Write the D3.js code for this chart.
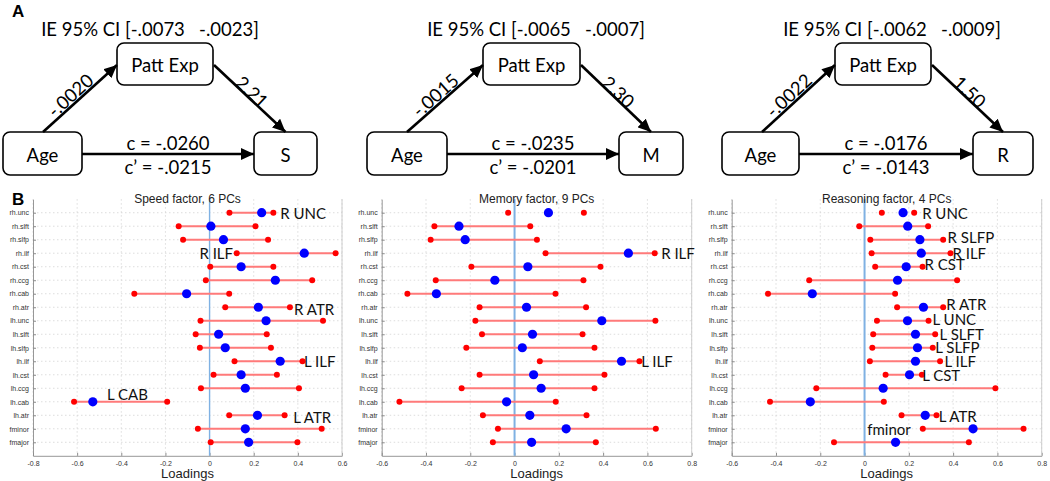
<!DOCTYPE html>
<html>
<head>
<meta charset="utf-8">
<script src="https://cdn.jsdelivr.net/npm/d3@7"></script>
<style>
  html, body { margin: 0; padding: 0; background: #fff; }
  svg { display: block; }
</style>
</head>
<body>
<svg id="chart" width="1050" height="481"></svg>
<script>
// ---------------- DATA ----------------
// Panel A: mediation models
const outcomes = ["S", "M", "R"];
const ieLow = [".0073", ".0065", ".0062"];
const ieHigh = [".0023", ".0007", ".0009"];
const pathA = ["-.0020", "-.0015", "-.0022"];
const pathB = ["2.21", "2.30", "1.50"];
const pathC = ["-.0260", "-.0235", "-.0176"];
const pathCp = ["-.0215", "-.0201", "-.0143"];

// Panel B: loadings
const tracts = ["rh.unc","rh.slft","rh.slfp","rh.ilf","rh.cst","rh.ccg","rh.cab","rh.atr",
  "lh.unc","lh.slft","lh.slfp","lh.ilf","lh.cst","lh.ccg","lh.cab","lh.atr","fminor","fmajor"];
const panelTitles = ["Speed factor, 6 PCs", "Memory factor, 9 PCs", "Reasoning factor, 4 PCs"];

const speedLo  = [0.09,-0.14,-0.12,0.123,0.003,-0.017,-0.341,0.071,-0.041,-0.063,-0.044,0.113,0.018,-0.039,-0.614,0.089,-0.053,0.005];
const speedEst = [0.236,0.006,0.063,0.429,0.143,0.298,-0.104,0.221,0.256,0.041,0.071,0.32,0.143,0.162,-0.529,0.217,0.162,0.177];
const speedHi  = [0.289,0.208,0.265,0.571,0.289,0.465,0.089,0.364,0.514,0.259,0.278,0.421,0.305,0.405,-0.192,0.34,0.508,0.398];

const memLo  = [-0.029,-0.362,-0.379,0.14,-0.195,-0.356,-0.484,-0.158,-0.177,-0.147,-0.218,0.114,-0.158,-0.239,-0.52,-0.143,-0.075,-0.098];
const memEst = [0.153,-0.251,-0.223,0.514,0.06,-0.089,-0.353,0.054,0.394,0.081,0.035,0.483,0.086,0.12,-0.036,0.069,0.233,0.077];
const memHi  = [0.313,0.071,0.101,0.633,0.388,0.311,0.185,0.323,0.636,0.307,0.361,0.564,0.406,0.361,0.186,0.325,0.638,0.367];

const reasLo  = [0.078,-0.024,0.026,0.032,0.048,-0.25,-0.436,0.147,0.056,0.039,0.035,0.024,0.095,-0.218,-0.427,0.167,0.263,-0.138];
const reasEst = [0.174,0.195,0.25,0.256,0.188,0.149,-0.236,0.266,0.194,0.23,0.239,0.23,0.203,0.084,-0.245,0.274,0.49,0.14];
const reasHi  = [0.224,0.287,0.355,0.388,0.262,0.418,0.138,0.355,0.289,0.319,0.308,0.341,0.259,0.591,0.087,0.325,0.718,0.471];

// whether the CI line of the first row is drawn in each panel
const firstRowLine = [true, false, false];

const xDomains = [[-0.8, 0.6], [-0.6, 0.8], [-0.6, 0.8]];
const xTicks = [[-0.8,-0.6,-0.4,-0.2,0,0.2,0.4,0.6],[-0.6,-0.4,-0.2,0,0.2,0.4,0.6,0.8],[-0.6,-0.4,-0.2,0,0.2,0.4,0.6,0.8]];

// annotations: tract, label, anchor loading, row shift
const speedNotes = [["rh.unc","R UNC",0.32,0],["rh.ilf","R ILF",-0.046,0],["rh.atr","R ATR",0.383,0.1],
  ["lh.ilf","L ILF",0.428,-0.05],["lh.cab","L CAB",-0.465,-0.55],["lh.atr","L ATR",0.379,0.15]];
const memNotes = [["rh.ilf","R ILF",0.662,0],["lh.ilf","L ILF",0.572,0]];
const reasNotes = [["rh.unc","R UNC",0.26,0],["rh.slfp","R SLFP",0.375,-0.2],["rh.ilf","R ILF",0.397,0],
  ["rh.cst","R CST",0.271,-0.2],["rh.atr","R ATR",0.369,-0.25],["lh.unc","L UNC",0.307,-0.15],
  ["lh.slft","L SLFT",0.339,-0.05],["lh.slfp","L SLFP",0.319,-0.05],["lh.ilf","L ILF",0.361,-0.05],
  ["lh.cst","L CST",0.26,0],["lh.atr","L ATR",0.335,0.05],["fminor","fminor",0.012,0.05]];

// ---------------- DRAW ----------------
const svg = d3.select("#chart");
svg.append("rect").attr("width", 1050).attr("height", 481).attr("fill", "#fff");

const diagFont = "Lato, 'Open Sans', sans-serif";
const plotFont = "'Liberation Sans', Arial, sans-serif";
const diagSize = 18.5;

svg.append("text").attr("x", 12).attr("y", 17).text("A")
  .attr("font-family", plotFont).attr("font-weight", "bold").attr("font-size", 17);
svg.append("text").attr("x", 12).attr("y", 205).text("B")
  .attr("font-family", plotFont).attr("font-weight", "bold").attr("font-size", 17);

// arrow marker
svg.append("defs").append("marker")
  .attr("id", "arr").attr("markerUnits", "userSpaceOnUse")
  .attr("markerWidth", 14).attr("markerHeight", 12)
  .attr("refX", 13).attr("refY", 6).attr("orient", "auto")
  .append("path").attr("d", "M0,0 L13,6 L0,12 Z").attr("fill", "#000");

// layout of diagrams (pixel geometry only)
const diagLayout = [
  {age: [3, 82], patt: [117, 213], out: [254, 317], ie: 150, cx: 168},
  {age: [367, 447], patt: [483, 580], out: [619, 683], ie: 536, cx: 533},
  {age: [722, 799], patt: [835, 931], out: [973, 1033], ie: 892, cx: 886}
];
const pattY = [43, 85], lowY = [132, 175];

outcomes.forEach((o, i) => {
  const L = diagLayout[i];
  const g = svg.append("g");
  const box = (x0, x1, y0, y1, label) => {
    g.append("rect").attr("x", x0).attr("y", y0).attr("width", x1 - x0).attr("height", y1 - y0)
      .attr("rx", 7).attr("ry", 7).attr("fill", "#fff").attr("stroke", "#000").attr("stroke-width", 1.6);
    g.append("text").attr("x", (x0 + x1) / 2).attr("y", (y0 + y1) / 2 + 1)
      .attr("text-anchor", "middle").attr("dominant-baseline", "central")
      .attr("font-family", diagFont).attr("font-size", diagSize).text(label);
  };
  box(L.patt[0], L.patt[1], pattY[0], pattY[1], "Patt Exp");
  box(L.age[0], L.age[1], lowY[0], lowY[1], "Age");
  box(L.out[0], L.out[1], lowY[0], lowY[1], o);

  g.append("text").attr("x", L.ie).attr("y", 29).attr("text-anchor", "middle")
    .attr("dominant-baseline", "central").attr("font-family", diagFont).attr("font-size", diagSize)
    .attr("xml:space", "preserve")
    .text(`IE 95% CI [-${ieLow[i]}   -${ieHigh[i]}]`);

  const arrow = (x1, y1, x2, y2) => g.append("line").attr("x1", x1).attr("y1", y1).attr("x2", x2).attr("y2", y2)
    .attr("stroke", "#000").attr("stroke-width", 2.6).attr("marker-end", "url(#arr)");
  const a1 = [L.age[0] + 40, lowY[0], L.patt[0], 65];
  const a2 = [L.patt[1] + 1, 65, (L.out[0] + L.out[1]) / 2, lowY[0]];
  arrow(...a1);
  arrow(...a2);
  arrow(L.age[1], 154, L.out[0], 154);

  const rotLabel = (a, txt, shift, dy) => {
    const mx = (a[0] + a[2]) / 2, my = (a[1] + a[3]) / 2;
    const ang = Math.atan2(a[3] - a[1], a[2] - a[0]) * 180 / Math.PI;
    g.append("text").attr("transform", `translate(${mx},${my}) rotate(${ang})`)
      .attr("x", shift).attr("y", dy).attr("text-anchor", "middle")
      .attr("font-family", diagFont).attr("font-size", diagSize).text(txt);
  };
  rotLabel(a1, pathA[i], -5, -2);
  rotLabel(a2, pathB[i], -3, 0.5);

  g.append("text").attr("x", L.cx).attr("y", 143).attr("text-anchor", "middle")
    .attr("dominant-baseline", "central").attr("font-family", diagFont).attr("font-size", diagSize)
    .text(`c = ${pathC[i]}`);
  g.append("text").attr("x", L.cx).attr("y", 167).attr("text-anchor", "middle")
    .attr("dominant-baseline", "central").attr("font-family", diagFont).attr("font-size", diagSize)
    .text(`c\u2019 = ${pathCp[i]}`);
});

// ---------- Panel B ----------
const panels = [
  {lo: speedLo, est: speedEst, hi: speedHi, notes: speedNotes, range: [33, 342]},
  {lo: memLo, est: memEst, hi: memHi, notes: memNotes, range: [381.7, 691.7]},
  {lo: reasLo, est: reasEst, hi: reasHi, notes: reasNotes, range: [731.7, 1041.7]}
];
const yTop = 199.2, yBot = 455.8;

panels.forEach((P, pi) => {
  const x = d3.scaleLinear().domain(xDomains[pi]).range(P.range);
  const y = d3.scalePoint().domain(tracts).range([yTop, yBot]).padding(1);
  const g = svg.append("g");
  const [l, r] = P.range;

  // grid
  g.selectAll(".vg").data(xTicks[pi]).join("line")
    .attr("x1", d => x(d)).attr("x2", d => x(d)).attr("y1", yTop).attr("y2", yBot)
    .attr("stroke", "#d4d4d4").attr("stroke-width", 0.8).attr("stroke-dasharray", "1.5,2.5");
  g.selectAll(".hg").data(tracts).join("line")
    .attr("x1", l).attr("x2", r).attr("y1", d => y(d)).attr("y2", d => y(d))
    .attr("stroke", "#d4d4d4").attr("stroke-width", 0.8).attr("stroke-dasharray", "1.5,2.5");

  // axes
  const xa = g.append("g").attr("transform", `translate(0,${yBot})`)
    .call(d3.axisBottom(x).tickValues(xTicks[pi]).tickSizeInner(-3).tickSizeOuter(0).tickPadding(5)
      .tickFormat(d => String(+d.toFixed(1))));
  const ya = g.append("g").attr("transform", `translate(${l},0)`)
    .call(d3.axisLeft(y).tickSizeInner(-3).tickSizeOuter(0).tickPadding(4));
  [xa, ya].forEach(a => {
    a.select(".domain").attr("stroke", "#8c8c8c").attr("stroke-width", 0.9);
    a.selectAll(".tick line").attr("stroke", "#8c8c8c");
    a.selectAll("text").attr("font-family", plotFont).attr("font-size", 7).attr("fill", "#333");
  });
  g.append("line").attr("x1", r).attr("x2", r).attr("y1", yTop).attr("y2", yBot)
    .attr("stroke", "#c8c8c8").attr("stroke-width", 0.9);

  // zero line
  g.append("line").attr("x1", x(0)).attr("x2", x(0)).attr("y1", yTop).attr("y2", yBot)
    .attr("stroke", "#7fb1e3").attr("stroke-width", pi === 0 ? 1.4 : 2);

  const rowsData = tracts.map((t, i) => ({t, i, lo: P.lo[i], est: P.est[i], hi: P.hi[i]}));
  g.selectAll(".ci").data(rowsData.filter(d => d.i > 0 || firstRowLine[pi])).join("line")
    .attr("x1", d => x(d.lo)).attr("x2", d => x(d.hi)).attr("y1", d => y(d.t)).attr("y2", d => y(d.t))
    .attr("stroke", "#ff7a7a").attr("stroke-width", 2);
  g.selectAll(".rl").data(rowsData).join("circle")
    .attr("cx", d => x(d.lo)).attr("cy", d => y(d.t)).attr("r", 3).attr("fill", "#ff0000");
  g.selectAll(".rh").data(rowsData).join("circle")
    .attr("cx", d => x(d.hi)).attr("cy", d => y(d.t)).attr("r", 3).attr("fill", "#ff0000");
  g.selectAll(".be").data(rowsData).join("circle")
    .attr("cx", d => x(d.est)).attr("cy", d => y(d.t)).attr("r", 4.6).attr("fill", "#0000ff");

  // annotations
  g.selectAll(".note").data(P.notes).join("text")
    .attr("x", d => x(d[2])).attr("y", d => y(d[0]) + d[3] * y.step())
    .attr("dominant-baseline", "central").attr("font-family", diagFont).attr("font-size", 15)
    .attr("fill", "#111").text(d => d[1]);

  // title and x label
  g.append("text").attr("x", (l + r) / 2).attr("y", 203).attr("text-anchor", "middle")
    .attr("font-family", plotFont).attr("font-size", 12).attr("fill", "#222").text(panelTitles[pi]);
  g.append("text").attr("x", (l + r) / 2).attr("y", 478).attr("text-anchor", "middle")
    .attr("font-family", plotFont).attr("font-size", 13).attr("fill", "#222").text("Loadings");
});
</script>
</body>
</html>
